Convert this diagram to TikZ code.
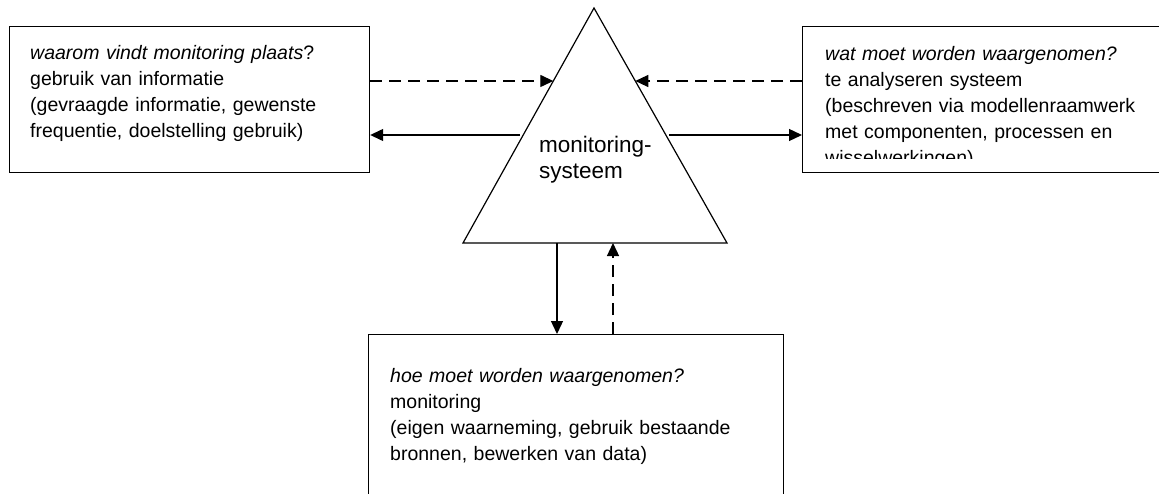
\documentclass[tikz,border=0pt]{standalone}
\usepackage{fontspec}
\setmainfont{Liberation Sans}
\usetikzlibrary{arrows.meta,calc}
\begin{document}
\begin{tikzpicture}[x=1pt,y=-1pt,
  box/.style={draw,line width=1.2pt,rectangle,inner sep=0pt,anchor=north west},
  txt/.style={anchor=base west,inner sep=0pt,align=left,text width=#1,
    font=\fontsize{19.5}{26}\selectfont},
  txt/.default=340pt,
  conn/.style={line width=1.3pt,-{Triangle[length=13pt,width=12pt]}},
  dconn/.style={conn,dash pattern=on 12pt off 7pt}]
\useasboundingbox (0,0) rectangle (1159,493);
\clip (0,0) rectangle (1159,493);
\fill[white] (0,0) rectangle (1159,493);
% boxes
\node[box,minimum width=360pt,minimum height=146pt] (L) at (9,26) {};
\node[box,minimum width=380pt,minimum height=146pt] (R) at (802,26) {};
\node[box,minimum width=415pt,minimum height=200pt] (B) at (368,334) {};
% triangle
\coordinate (apex) at (594,8);
\coordinate (bl) at (463,243);
\coordinate (br) at (727,243);
\draw[line width=1.2pt,line join=miter] (apex) -- (bl) -- (br) -- cycle;
\node[txt=150pt,font=\fontsize{22.5}{26}\selectfont] (T) at (539,152) {monitoring-\\systeem};
% points on the triangle
\coordinate (Ld) at ($(apex)!0.3106!(bl)$);
\coordinate (Rd) at ($(apex)!0.3106!(br)$);
\coordinate (Ls) at ($(apex)!0.5404!(bl)$);
\coordinate (Rs) at ($(apex)!0.5404!(br)$);
\coordinate (bd) at (557,243);
\coordinate (bu) at (613,243);
% connectors
\draw[dconn] (Ld -| L.east) -- (Ld);
\draw[dconn] (Rd -| R.west) -- (Rd);
\draw[conn,shorten <=3pt] (Ls) -- (Ls -| L.east);
\draw[conn,shorten <=3pt] (Rs) -- (Rs -| R.west);
\draw[conn] (bd) -- (bd |- B.north);
\draw[dconn] (bu |- B.north) -- (bu);
% texts
\node[txt] (Lt) at (30,59) {\textit{waarom vindt monitoring plaats}?\\
gebruik van informatie\\
(gevraagde informatie, gewenste\\
frequentie, doelstelling gebruik)};
\begin{scope}
\clip (802,26) rectangle (1159,158);
\node[txt] (Rt) at (825,60) {\textit{wat moet worden waargenomen?}\\
te analyseren systeem\\
(beschreven via modellenraamwerk\\
met componenten, processen en\\
wisselwerkingen)};
\end{scope}
\node[txt=380pt] (Bt) at (390,382) {\textit{hoe moet worden waargenomen?}\\
monitoring\\
(eigen waarneming, gebruik bestaande\\
bronnen, bewerken van data)};
\end{tikzpicture}
\end{document}
